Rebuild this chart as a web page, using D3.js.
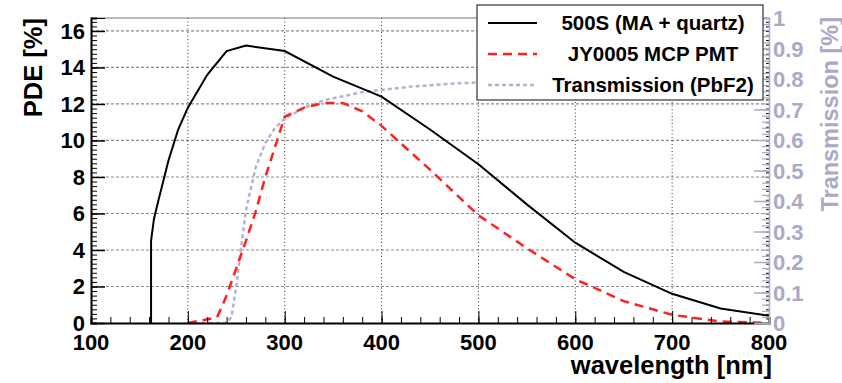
<!DOCTYPE html>
<html>
<head>
<meta charset="utf-8">
<script src="https://cdn.jsdelivr.net/npm/d3@7"></script>
<style>
  body { margin: 0; background: white; }
  text { font-family: "Liberation Sans", Arial, sans-serif; font-weight: bold; }
</style>
</head>
<body>
<script>
// wavelength [nm] / PDE [%] for the 500S (MA + quartz)
let wl500 = [162, 162, 165, 170, 180, 190, 200, 220, 240, 260, 300, 350, 400, 450, 500, 550, 600, 650, 700, 750, 800]
let pde500 = [0, 4.5, 5.7, 6.8, 8.9, 10.6, 11.8, 13.6, 14.9, 15.2, 14.9, 13.5, 12.4, 10.6, 8.7, 6.5, 4.4, 2.8, 1.6, 0.8, 0.4]

// JY0005 MCP PMT
let wlJY = [200, 230, 240, 250, 260, 270, 280, 300, 320, 340, 360, 380, 400, 450, 500, 550, 600, 650, 700, 750, 800]
let pdeJY = [0, 0.3, 1.5, 3.0, 4.5, 6.1, 8.0, 11.3, 11.8, 12.05, 12.05, 11.6, 10.8, 8.4, 5.9, 4.1, 2.4, 1.2, 0.45, 0.08, 0]

// transmission of PbF2 (right axis, 0..1)
let wlT = [200, 240, 245, 250, 255, 260, 270, 280, 290, 300, 320, 340, 380, 430, 480, 550, 650, 800]
let trans = [0, 0, 0.02, 0.12, 0.25, 0.37, 0.51, 0.59, 0.64, 0.67, 0.705, 0.73, 0.757, 0.775, 0.786, 0.795, 0.8, 0.805]

let xTicks = [100, 200, 300, 400, 500, 600, 700, 800]
let yTicks = [0, 2, 4, 6, 8, 10, 12, 14, 16]
let rTicks = [0, 0.1, 0.2, 0.3, 0.4, 0.5, 0.6, 0.7, 0.8, 0.9, 1]
let legendNames = ["500S (MA + quartz)", "JY0005 MCP PMT", "Transmission (PbF2)"]

let w = 842
let h = 383
let padL = 91, padR = 769, padT = 18, padB = 323
let lav = "#a9a9c8"

let svg = d3.select("body").append("svg")
  .attr("width", w)
  .attr("height", h)

let x = d3.scaleLinear().domain([100, 800]).range([padL, padR])
let y = d3.scaleLinear().domain([0, 16.71]).range([padB, padT])
let yR = d3.scaleLinear().domain([0, 1]).range([padB, padT])

svg.append("clipPath").attr("id", "plot")
  .append("rect").attr("x", padL).attr("y", padT).attr("width", padR - padL).attr("height", padB - padT)

// grid
svg.append("g").selectAll("line")
  .data(yTicks.slice(1))
  .enter().append("line")
  .attr("x1", padL).attr("x2", padR)
  .attr("y1", d => y(d)).attr("y2", d => y(d))
  .attr("stroke", "#8a8a8a").attr("stroke-width", 1.2).attr("stroke-dasharray", "3,2")

svg.append("g").selectAll("line")
  .data(xTicks.slice(1, -1))
  .enter().append("line")
  .attr("x1", d => x(d)).attr("x2", d => x(d))
  .attr("y1", padT).attr("y2", padB)
  .attr("stroke", "#333").attr("stroke-width", 1).attr("stroke-dasharray", "1,2.5")

// curves
let curves = svg.append("g").attr("clip-path", "url(#plot)")

let lineT = d3.line().x((d, i) => x(wlT[i])).y(d => yR(d))
curves.append("path")
  .attr("d", lineT(trans))
  .attr("fill", "none").attr("stroke", "#b3b3d0").attr("stroke-width", 2.5)
  .attr("stroke-dasharray", "4,3")

let lineJY = d3.line().x((d, i) => x(wlJY[i])).y(d => y(d))
curves.append("path")
  .attr("d", lineJY(pdeJY))
  .attr("fill", "none").attr("stroke", "#ff2020").attr("stroke-width", 2.5)
  .attr("stroke-dasharray", "9,6")

let line500 = d3.line().x((d, i) => x(wl500[i])).y(d => y(d))
curves.append("path")
  .attr("d", line500(pde500))
  .attr("fill", "none").attr("stroke", "black").attr("stroke-width", 2)

// frame
svg.append("line").attr("x1", padL).attr("x2", padR).attr("y1", padT).attr("y2", padT)
  .attr("stroke", "#777").attr("stroke-width", 1)

// left axis
let yAxis = d3.axisRight(y).tickValues(yTicks).tickSize(14).tickFormat("")
svg.append("g").attr("transform", "translate(" + padL + ",0)").call(yAxis)
  .call(g => g.selectAll("line").attr("stroke-width", 1.5))
let yMinor = d3.axisRight(y).tickValues(d3.range(0, 16.71, 0.25)).tickSize(6).tickFormat("")
svg.append("g").attr("transform", "translate(" + padL + ",0)").call(yMinor)
  .call(g => g.select(".domain").attr("stroke-width", 2))
svg.append("g").selectAll("text")
  .data(yTicks)
  .enter().append("text")
  .attr("x", padL - 6).attr("y", d => y(d) + 8)
  .attr("text-anchor", "end").attr("font-size", 22)
  .text(d => d)

// mirrored minor ticks on right edge
let yMirror = d3.axisLeft(y).tickValues(d3.range(0, 16.71, 0.25)).tickSize(3).tickFormat("")
svg.append("g").attr("transform", "translate(" + padR + ",0)").call(yMirror)
  .call(g => g.select(".domain").remove())

// bottom axis
let xMinor = d3.axisTop(x).tickValues(d3.range(100, 801, 20)).tickSize(6).tickFormat("")
svg.append("g").attr("transform", "translate(0," + padB + ")").call(xMinor)
  .call(g => g.select(".domain").attr("stroke-width", 2))
let xAxis = d3.axisTop(x).tickValues(xTicks).tickSize(12).tickFormat("")
svg.append("g").attr("transform", "translate(0," + padB + ")").call(xAxis)
  .call(g => g.select(".domain").remove())
svg.append("g").selectAll("text")
  .data(xTicks)
  .enter().append("text")
  .attr("x", d => x(d)).attr("y", 350)
  .attr("text-anchor", "middle").attr("font-size", 22)
  .text(d => d)

svg.append("text")
  .attr("x", 772).attr("y", 374)
  .attr("text-anchor", "end").attr("font-size", 25.5)
  .text("wavelength [nm]")

svg.append("text")
  .attr("transform", "translate(42," + padT + ") rotate(-90)")
  .attr("text-anchor", "end").attr("font-size", 25.5)
  .text("PDE [%]")

// right axis (transmission)
let rAxis = d3.axisLeft(yR).tickValues(rTicks).tickSize(15).tickFormat("")
svg.append("g").attr("transform", "translate(" + padR + ",0)").call(rAxis)
  .call(g => g.selectAll("line").attr("stroke", lav).attr("stroke-width", 1.5))
  .call(g => g.select(".domain").attr("stroke", lav).attr("stroke-width", 1.5))
let rMinor = d3.axisLeft(yR).tickValues(d3.range(0, 1.001, 0.02)).tickSize(7).tickFormat("")
svg.append("g").attr("transform", "translate(" + padR + ",0)").call(rMinor)
  .call(g => g.selectAll("line").attr("stroke", lav).attr("stroke-width", 1.2))
  .call(g => g.select(".domain").remove())
svg.append("g").selectAll("text")
  .data(rTicks)
  .enter().append("text")
  .attr("x", padR + 4).attr("y", d => yR(d) + 8)
  .attr("font-size", 22).attr("fill", lav)
  .text(d => d)

svg.append("text")
  .attr("transform", "translate(838," + (padT - 1) + ") rotate(-90)")
  .attr("text-anchor", "end").attr("font-size", 23.5).attr("fill", lav)
  .text("Transmission [%]")

// legend
let legend = svg.append("g").attr("id", "legend")
legend.append("rect")
  .attr("x", 477).attr("y", 5).attr("width", 286).attr("height", 95)
  .attr("fill", "white").attr("stroke", "#333").attr("stroke-width", 1.2)

let legStyles = [
  {stroke: "black", width: 2, dash: null},
  {stroke: "#ff2020", width: 2.5, dash: "9,6"},
  {stroke: "#b3b3d0", width: 2.5, dash: "4,3"}
]
let legY = d3.scalePoint().domain(legendNames).range([23, 85])

legend.selectAll(".legend-line")
  .data(legendNames)
  .enter().append("line")
  .attr("class", "legend-line")
  .attr("x1", 488).attr("x2", 537)
  .attr("y1", d => legY(d)).attr("y2", d => legY(d))
  .attr("stroke", (d, i) => legStyles[i].stroke)
  .attr("stroke-width", (d, i) => legStyles[i].width)
  .attr("stroke-dasharray", (d, i) => legStyles[i].dash)

legend.selectAll(".legend-text")
  .data(legendNames)
  .enter().append("text")
  .attr("class", "legend-text")
  .attr("x", 653).attr("y", d => legY(d) + 7)
  .attr("text-anchor", "middle").attr("font-size", 20.5)
  .text(d => d)
</script>
</body>
</html>
